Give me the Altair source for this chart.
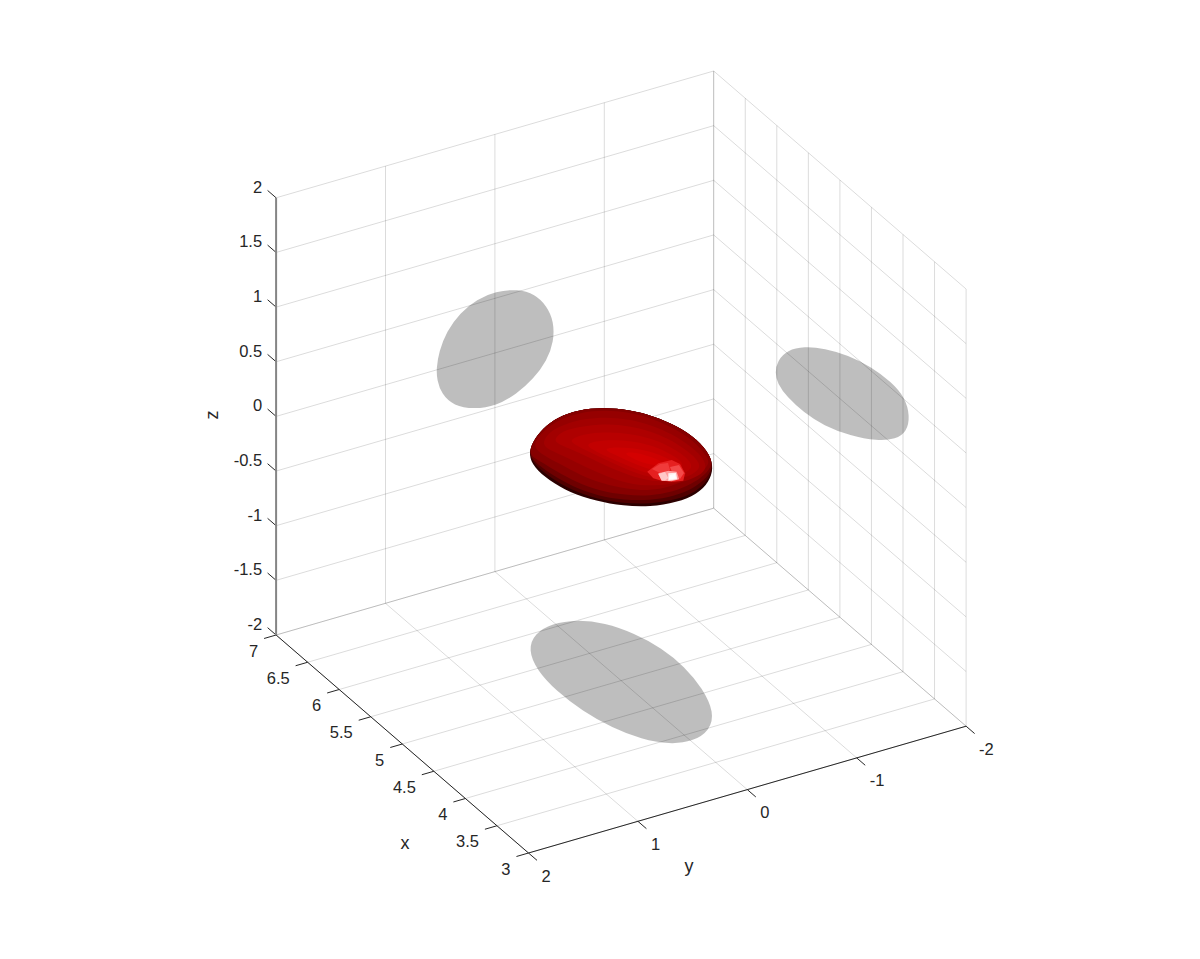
import altair as alt
import pandas as pd

FONT = "Liberation Sans"
INK = "#262626"

# axis ticks and labels
x_ticks = [3, 3.5, 4, 4.5, 5, 5.5, 6, 6.5, 7]
x_labels = ["3", "3.5", "4", "4.5", "5", "5.5", "6", "6.5", "7"]
y_ticks = [2, 1, 0, -1, -2]
y_labels = ["2", "1", "0", "-1", "-2"]
z_ticks = [-2, -1.5, -1, -0.5, 0, 0.5, 1, 1.5, 2]
z_labels = ["-2", "-1.5", "-1", "-0.5", "0", "0.5", "1", "1.5", "2"]

# shadow on the floor z = -2
floor_x = [5.79, 5.97, 6.04, 5.99, 5.84, 5.58, 5.27, 4.93, 4.56, 4.19, 3.98, 3.90, 3.95, 4.13, 4.40, 4.75, 5.13, 5.48]
floor_y = [0.38, 0.22, 0.03, -0.17, -0.33, -0.45, -0.52, -0.53, -0.48, -0.37, -0.21, -0.02, 0.16, 0.31, 0.42, 0.49, 0.51, 0.48]
# shadow on the wall x = 7
wall_x_y = [0.526, 0.502, 0.434, 0.312, 0.159, -0.009, -0.208, -0.361, -0.468, -0.529, -0.529, -0.468, -0.346, -0.193, -0.009, 0.190, 0.373, 0.480, 0.520]
wall_x_z = [0.011, 0.156, 0.319, 0.452, 0.530, 0.552, 0.515, 0.426, 0.288, 0.134, -0.049, -0.199, -0.331, -0.423, -0.478, -0.450, -0.367, -0.230, -0.097]
# shadow on the wall y = -2
wall_y_x = [6.008, 5.972, 5.824, 5.562, 5.247, 4.879, 4.512, 4.197, 3.987, 3.909, 3.961, 4.118, 4.406, 4.827, 5.247, 5.562, 5.824, 5.972]
wall_y_z = [-0.267, -0.143, 0.022, 0.186, 0.324, 0.447, 0.523, 0.543, 0.510, 0.382, 0.219, 0.080, -0.079, -0.243, -0.361, -0.396, -0.389, -0.340]

# shading bands of the red body, as read in the view plane (outermost first)
band_colors = ["#2c0000", "#500000", "#6e0000", "#860000", "#960000", "#a20000", "#ae0000", "#b80000", "#c20000", "#cc0000", "#d40000"]
band_u = [
    [5.285, 5.325, 5.43, 5.58, 5.78, 6.033, 6.30, 6.535, 6.77, 6.975, 7.10, 7.135, 7.09, 6.975, 6.77, 6.50, 6.233, 5.965, 5.695, 5.49, 5.34],
    [5.285, 5.325, 5.43, 5.58, 5.78, 6.033, 6.30, 6.535, 6.77, 6.975, 7.10, 7.13, 7.08, 6.96, 6.76, 6.50, 6.23, 5.97, 5.71, 5.51, 5.36],
    [5.285, 5.325, 5.43, 5.58, 5.78, 6.033, 6.30, 6.535, 6.77, 6.975, 7.10, 7.13, 7.07, 6.94, 6.75, 6.50, 6.24, 5.985, 5.73, 5.53, 5.375],
    [5.285, 5.325, 5.43, 5.58, 5.78, 6.033, 6.30, 6.535, 6.77, 6.975, 7.10, 7.125, 7.05, 6.92, 6.73, 6.50, 6.25, 6.00, 5.76, 5.56, 5.40],
    [5.33, 5.38, 5.47, 5.60, 5.80, 6.04, 6.30, 6.52, 6.75, 6.94, 7.06, 7.10, 7.03, 6.90, 6.72, 6.50, 6.27, 6.03, 5.80, 5.60, 5.43],
    [5.42, 5.47, 5.56, 5.68, 5.84, 6.05, 6.29, 6.51, 6.72, 6.89, 7.02, 7.07, 7.02, 6.90, 6.72, 6.50, 6.30, 6.08, 5.87, 5.68, 5.49],
    [5.53, 5.58, 5.66, 5.78, 5.92, 6.08, 6.29, 6.50, 6.69, 6.85, 6.97, 7.01, 6.94, 6.80, 6.62, 6.45, 6.26, 6.06, 5.86, 5.68],
    [5.68, 5.75, 5.90, 6.10, 6.30, 6.50, 6.67, 6.81, 6.91, 6.92, 6.82, 6.65, 6.48, 6.30, 6.10, 5.90],
    [5.85, 5.95, 6.12, 6.32, 6.50, 6.65, 6.78, 6.85, 6.75, 6.60, 6.45, 6.28, 6.10, 5.95],
    [6.03, 6.15, 6.32, 6.48, 6.63, 6.75, 6.76, 6.60, 6.45, 6.28, 6.13],
    [6.22, 6.34, 6.48, 6.60, 6.64, 6.50, 6.36],
]
band_v = [
    [4.55, 4.417, 4.28, 4.17, 4.10, 4.075, 4.10, 4.16, 4.26, 4.395, 4.55, 4.685, 4.82, 4.94, 5.025, 5.07, 5.06, 5.01, 4.925, 4.805, 4.675],
    [4.55, 4.417, 4.28, 4.17, 4.10, 4.075, 4.10, 4.16, 4.26, 4.395, 4.55, 4.68, 4.805, 4.92, 5.00, 5.04, 5.035, 4.99, 4.90, 4.78, 4.66],
    [4.55, 4.417, 4.28, 4.17, 4.10, 4.075, 4.10, 4.16, 4.26, 4.395, 4.55, 4.67, 4.78, 4.88, 4.96, 5.005, 5.00, 4.96, 4.87, 4.755, 4.645],
    [4.55, 4.417, 4.28, 4.17, 4.10, 4.075, 4.10, 4.16, 4.26, 4.395, 4.55, 4.65, 4.75, 4.84, 4.92, 4.96, 4.95, 4.91, 4.82, 4.71, 4.61],
    [4.47, 4.37, 4.28, 4.19, 4.125, 4.10, 4.125, 4.185, 4.285, 4.41, 4.55, 4.63, 4.71, 4.79, 4.86, 4.91, 4.89, 4.84, 4.75, 4.64, 4.55],
    [4.44, 4.35, 4.28, 4.23, 4.19, 4.17, 4.19, 4.25, 4.34, 4.45, 4.56, 4.67, 4.74, 4.80, 4.84, 4.86, 4.84, 4.77, 4.68, 4.58, 4.50],
    [4.42, 4.35, 4.30, 4.27, 4.25, 4.24, 4.26, 4.31, 4.39, 4.49, 4.59, 4.67, 4.74, 4.79, 4.82, 4.80, 4.74, 4.66, 4.56, 4.48],
    [4.42, 4.37, 4.33, 4.32, 4.34, 4.38, 4.45, 4.53, 4.62, 4.69, 4.75, 4.79, 4.77, 4.71, 4.62, 4.52],
    [4.45, 4.41, 4.40, 4.41, 4.45, 4.51, 4.58, 4.66, 4.74, 4.76, 4.73, 4.66, 4.58, 4.51],
    [4.49, 4.47, 4.48, 4.51, 4.56, 4.62, 4.70, 4.72, 4.68, 4.61, 4.54],
    [4.53, 4.52, 4.56, 4.60, 4.66, 4.65, 4.60],
]

# facets of the highlight on the red body
facet_colors = ["#e62020", "#f03a3a", "#f44a4a", "#ff9c9c", "#ffc8c8", "#fff0f0", "#ffffff"]
facet_u = [
    [6.473, 6.583, 6.717, 6.80, 6.85, 6.833, 6.733, 6.617, 6.533],
    [6.52, 6.60, 6.68, 6.70, 6.60],
    [6.70, 6.79, 6.84, 6.80, 6.72],
    [6.583, 6.683, 6.767, 6.793, 6.717, 6.617],
    [6.583, 6.65, 6.683, 6.65, 6.617],
    [6.683, 6.76, 6.773, 6.683],
    [6.70, 6.75, 6.76, 6.69],
]
facet_v = [
    [4.717, 4.633, 4.60, 4.64, 4.733, 4.807, 4.817, 4.807, 4.783],
    [4.69, 4.64, 4.63, 4.70, 4.73],
    [4.67, 4.65, 4.73, 4.79, 4.72],
    [4.733, 4.707, 4.717, 4.793, 4.813, 4.807],
    [4.74, 4.72, 4.78, 4.805, 4.805],
    [4.733, 4.727, 4.793, 4.807],
    [4.75, 4.74, 4.785, 4.795],
]

# axis titles: text, u, v in the view plane
title_text = ["x", "y", "z"]
title_u = [4.05, 6.89, 2.13]
title_v = [8.44, 8.67, 4.15]


def view(x, y, z):
    """Orthographic view of the 3-D axes box."""
    return (
        (528.5 - 63.1 * (x - 3) - 109.4 * (y - 2)) / 100,
        (853 - 54.5 * (x - 3) + 31.7 * (y - 2) - 109.3 * (z + 2)) / 100,
    )


def segment(p, q):
    a, b = view(*p), view(*q)
    return {"u": a[0], "v": a[1], "u2": b[0], "v2": b[1]}


U = alt.X("u:Q", scale=alt.Scale(domain=[0.08, 11.78], zero=False, nice=False), axis=None)
V = alt.Y("v:Q", scale=alt.Scale(domain=[9.43, 0.08], zero=False, nice=False), axis=None)


def rules(rows, color, width=1.0, opacity=1.0):
    return alt.Chart(alt.Data(values=rows)).mark_rule(
        color=color, strokeWidth=width, opacity=opacity
    ).encode(x=U, y=V, x2="u2:Q", y2="v2:Q")


def polygon(us, vs, fill, closed="basis-closed", opacity=1.0, stroke_width=0.0):
    rows = [{"u": a, "v": b, "i": i} for i, (a, b) in enumerate(zip(us, vs))]
    return alt.Chart(alt.Data(values=rows)).mark_line(
        interpolate=closed, fill=fill, opacity=opacity, stroke=fill, strokeWidth=stroke_width
    ).encode(x=U, y=V, order="i:Q")


def labels(rows, align, dx, dy, size=16.5):
    return alt.Chart(alt.Data(values=rows)).mark_text(
        font=FONT, fontSize=size, color=INK, align=align, baseline="middle", dx=dx, dy=dy
    ).encode(x=U, y=V, text="t:N")


# grid lines on the three back planes; overlaps darken naturally
grid = []
for x in x_ticks:
    grid.append(segment((x, 2, -2), (x, -2, -2)))
    grid.append(segment((x, -2, -2), (x, -2, 2)))
for y in y_ticks:
    grid.append(segment((3, y, -2), (7, y, -2)))
    grid.append(segment((7, y, -2), (7, y, 2)))
for z in z_ticks:
    grid.append(segment((7, 2, z), (7, -2, z)))
    grid.append(segment((7, -2, z), (3, -2, z)))

layers = [rules(grid, "black", 1.0, 0.14)]

# shadows
fu, fv = zip(*[view(a, b, -2) for a, b in zip(floor_x, floor_y)])
layers.append(polygon(fu, fv, "black", opacity=0.25, stroke_width=3))
wu, wv = zip(*[view(7, a, b) for a, b in zip(wall_x_y, wall_x_z)])
layers.append(polygon(wu, wv, "black", opacity=0.25, stroke_width=2))
su, sv = zip(*[view(a, -2, b) for a, b in zip(wall_y_x, wall_y_z)])
layers.append(polygon(su, sv, "black", opacity=0.25, stroke_width=2.5))

# red body
for c, us, vs in zip(band_colors, band_u, band_v):
    layers.append(polygon(us, vs, c))
for c, us, vs in zip(facet_colors, facet_u, facet_v):
    layers.append(polygon(us, vs, c, closed="linear-closed"))

# axis lines and ticks
axis_lines = [segment((3, 2, -2), (7, 2, -2)), segment((3, 2, -2), (3, -2, -2))]
ticks = (
    [segment((x, 2, -2), (x, 2.11, -2)) for x in x_ticks]
    + [segment((3, y, -2), (2.865, y, -2)) for y in y_ticks]
    + [segment((7, 2, z), (7.135, 2, z)) for z in z_ticks]
)
layers.append(rules(axis_lines + ticks, INK))
layers.append(rules([segment((7, 2, -2), (7, 2, 2))], "#858585", 2.0))


# tick labels
def label_rows(points, texts):
    return [{"u": view(*p)[0], "v": view(*p)[1], "t": t} for p, t in zip(points, texts)]


layers.append(labels(label_rows([(x, 2, -2) for x in x_ticks], x_labels), "right", -18, 16.5))
layers.append(labels(label_rows([(3, y, -2) for y in y_ticks], y_labels), "left", 13, 23.5))
layers.append(labels(label_rows([(7, 2, z) for z in z_ticks], z_labels), "right", -14, -10))

# axis titles
title_rows = [{"u": a, "v": b, "t": t} for t, a, b in zip(title_text, title_u, title_v)]
layers.append(labels(title_rows[:2], "center", 0, 0, 18))
layers.append(
    alt.Chart(alt.Data(values=title_rows[2:])).mark_text(
        font=FONT, fontSize=18, color=INK, align="center", baseline="middle", angle=270
    ).encode(x=U, y=V, text="t:N")
)

chart = alt.layer(*layers).properties(
    width=1170, height=935, padding=0, autosize=alt.AutoSizeParams(type="none"), background="white"
).configure_view(stroke=None)

chart.save("out.html", embed_options={"renderer": "svg", "actions": False})
